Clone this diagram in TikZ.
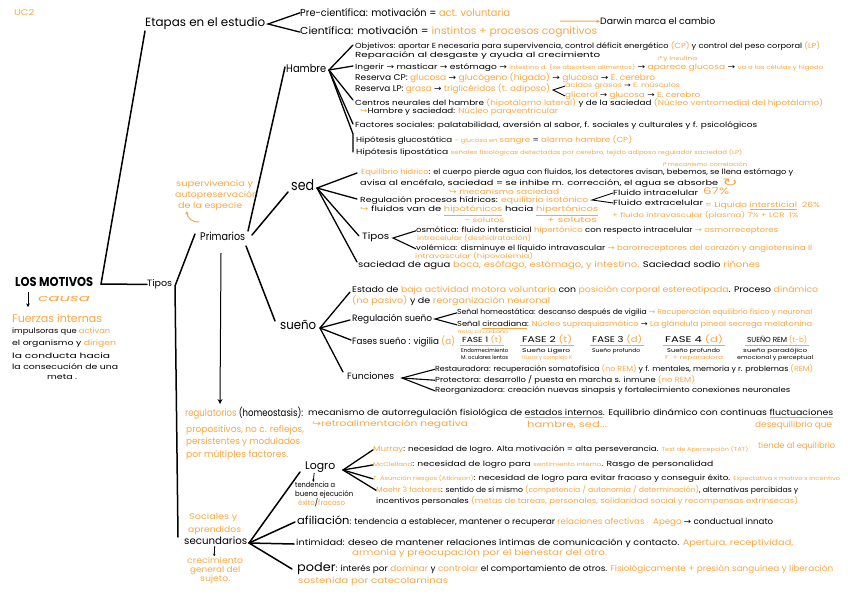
\documentclass[tikz,border=0pt]{standalone}
\usepackage{fontspec}
\setmainfont{Poppins}
\newfontfamily\symf{DejaVu Sans}
\usepackage{graphicx}
\usetikzlibrary{arrows.meta}
\definecolor{orn}{RGB}{247,168,66}
\newcommand{\orn}[1]{\textcolor{orn}{#1}}
\newcommand{\rar}{{\symf →}}
\newcommand{\sm}[1]{{\fontsize{5.6}{5.6}\selectfont #1}}
\newcommand{\oul}[1]{{\color{orn}\underline{\color{black}#1}}}
\newcommand{\tline}[6]{\pgfmathsetmacro\tls{#5*0.92}\node[anchor=mid west,inner sep=0pt] (#1) at (#2,#3) {\resizebox{#4pt}{\height}{\fontsize{\tls pt}{\tls pt}\selectfont #6}};}
\tikzset{conn/.style={line width=1.5pt,line cap=round},
  fork/.style={line width=1.3pt,line cap=round},
  ul/.style={orn,line width=1.1pt},
  sarr/.style={line width=1pt,-{Stealth[length=3.5pt,width=3.5pt]}}}
\begin{document}
\begin{tikzpicture}[x=1pt,y=-1pt]
\fill[white] (0,0) rectangle (848,599);
\useasboundingbox (0,0) rectangle (848,599);
% ---------- root
\tline{uc}{14}{13}{20}{9}{\orn{UC2}}
\tline{root}{15}{284}{78}{14}{\bfseries LOS MOTIVOS}
\tline{causa}{38}{299}{52}{10}{\orn{\itshape causa}}
\coordinate (cb) at (28,292); \coordinate (ce) at (28,307);
\draw[sarr] (cb) -- (ce);
\tline{fuer}{12}{320}{90}{12}{\orn{Fuerzas internas}}
\tline{imp}{12}{331}{98}{8}{impulsoras que \orn{activan}}
\tline{org}{12}{343}{104}{8}{el organismo y \orn{dirigen}}
\tline{cond}{12}{356}{98}{8}{la conducta hacia}
\tline{cons}{12}{367}{106}{8}{la consecución de una}
\tline{meta}{47}{377}{30}{8}{meta .}
% ---------- etapas
\tline{etapas}{145}{24}{120}{13}{Etapas en el estudio}
\tline{pre}{300}{14}{210}{11}{Pre-científica: motivación = \orn{act. voluntaria}}
\tline{cie}{300}{32}{297}{11}{Científica: motivación = \orn{instintos + procesos cognitivos}}
\tline{darwin}{600}{22}{115}{10}{Darwin marca el cambio}
\coordinate (da1) at (560,21);
\draw[orn,sarr] (da1) -- (darwin.west);
\coordinate (ef) at (268,24);
\draw[fork] (pre.west) -- (ef) -- (cie.west);
\tline{tipos}{147}{284}{25}{10}{Tipos}
\coordinate (rj) at (101,284); \coordinate (etl) at (145,31);
\draw[conn] (etl) -- (rj) -- (tipos.west);
% ---------- primarios / secundarios
\tline{prim}{200}{238}{45}{12}{Primarios}
\tline{sup1}{176}{184}{77}{9}{\orn{supervivencia y}}
\tline{sup2}{175}{195}{83}{9}{\orn{autopreservación}}
\tline{sup3}{178}{206}{64}{9}{\orn{de la especie}}
\coordinate (ca1) at (199,222); \coordinate (ca2) at (187,211);
\draw[orn,sarr] (ca1) to[bend left=50] (ca2);
\coordinate (tj) at (175,286); \coordinate (prl) at (195,234); \coordinate (sel) at (178,537);
\draw[conn] (prl) -- (tj) -- (sel);
\coordinate (pa1) at (221,253); \coordinate (pa2) at (220,404);
\draw[line width=1pt,-{Stealth[length=5pt,width=5pt]}] (pa1) -- (pa2);
% ---------- hambre
\tline{hambre}{286}{70}{40}{12}{Hambre}
\coordinate (ph) at (248,231); \coordinate (hl) at (285,67);
\draw[conn] (ph) -- (hl);
\coordinate (hj) at (329,70);
\coordinate (h1) at (353,45); \coordinate (h2) at (353,66); \coordinate (h3) at (353,100);
\coordinate (h4) at (353,124); \coordinate (h5) at (353,134); \coordinate (h6) at (353,152);
\draw[fork] (hj) -- (h1); \draw[fork] (hj) -- (h2); \draw[fork] (hj) -- (h3);
\draw[fork] (hj) -- (h4); \draw[fork] (hj) -- (h5) -- (h6);
\tline{hb1}{355}{46}{465}{8}{Objetivos: aportar E necesaria para supervivencia, control déficit energético \orn{(CP)} y control del peso corporal \orn{(LP)}}
\tline{hb2}{355}{55}{245}{8}{Reparación al desgaste y ayuda al crecimiento}
\tline{ins}{657}{58}{40}{6}{\orn{{\symf ↱}y insulina}}
\tline{hb3}{355}{67}{468}{8}{Ingerir \rar{} masticar \rar{} estómago \rar{} \orn{\sm{intestino d. (se absorben alimentos)}} \rar{} \orn{aparece glucosa} \rar{} \orn{\sm{va a las células y hígado}}}
\tline{hb4}{355}{78}{300}{9}{Reserva CP: \orn{glucosa} \rar{} \orn{glucógeno (hígado)} \rar{} \orn{glucosa} \rar{} \orn{E. cerebro}}
\tline{hb5}{355}{89}{195}{9}{Reserva LP: \orn{grasa} \rar{} \orn{triglicéridos (t. adiposo)}}
\coordinate (lpj) at (553,90);
\tline{ag}{565}{85}{115}{7}{\orn{ácidos grasos} \rar{} \orn{E. músculos}}
\tline{gl}{565}{95}{135}{8}{\orn{glicerol} \rar{} \orn{glucosa} \rar{} \orn{E. cerebro}}
\draw[line width=0.9pt] (ag.west) -- (lpj) -- (gl.west);
\tline{hb6}{355}{103}{468}{8}{Centros neurales del hambre \orn{(hipotálamo lateral)} y de la saciedad \orn{(Núcleo ventromedial del hipotálamo)}}
\tline{hb7}{360}{111}{198}{8}{\orn{{\symf ↪}}Hambre y saciedad: \orn{Núcleo paraventricular}}
\tline{hb8}{355}{125}{402}{8}{Factores sociales: palatabilidad, aversión al sabor, f. sociales y culturales y f. psicológicos}
\tline{hb9}{356}{140}{276}{8}{Hipótesis glucostática \orn{\sm{– glucosa en} sangre} = \orn{alarma hambre (CP)}}
\tline{hb10}{356}{152}{386}{8}{Hipótesis lipostática \orn{\sm{señales fisiológicas detectadas por cerebro, tejido adiposo regulador saciedad (LP)}}}
% ---------- sed
\tline{sed}{291}{188}{23}{16}{sed}
\coordinate (ps) at (252,235); \coordinate (sl) at (288,192);
\draw[conn] (ps) -- (sl);
\coordinate (sj) at (317,188);
\coordinate (s1) at (357,173); \coordinate (s2) at (357,199); \coordinate (s3) at (359,236); \coordinate (s4) at (357,262);
\draw[fork] (sj) -- (s1); \draw[fork] (sj) -- (s2); \draw[fork] (sj) -- (s3); \draw[fork] (sj) -- (s4);
\tline{mcorr}{662}{164}{85}{6}{\orn{{\symf ↱}mecanismo correlación}}
\tline{sd1}{361}{172}{432}{8}{\orn{Equilibrio hídrico}: el cuerpo pierde agua con fluidos, los detectores avisan, bebemos, se llena estómago y}
\tline{sd2}{360}{183}{358}{8}{avisa al encéfalo, saciedad = se inhibe m. corrección, el agua se absorbe}
\tline{circ}{722}{184}{16}{12}{\orn{\symf ↻}}
\tline{sd3}{449}{192}{110}{8}{\orn{{\symf ↪} mecanismo saciedad}}
\tline{sd4}{360}{200}{228}{8}{Regulación procesos hídricos: \orn{equilibrio isotónico}}
\coordinate (rpj) at (592,200);
\tline{fi}{613}{193}{85}{8}{Fluido intracelular}
\tline{p67}{703}{192}{26}{10}{\orn{67\%}}
\tline{fe}{613}{203}{90}{8}{Fluido extracelular}
\draw[line width=0.9pt] (fi.west) -- (rpj) -- (fe.west);
\tline{li}{705}{205}{115}{8}{\orn{= Líquido \underline{intersticial}\ \ 26\%}}
\tline{fiv}{612}{215}{186}{7}{\orn{+ fluido intravascular (plasma) 7\% + LCR \ 1\%}}
\tline{sd5}{360}{209}{238}{8}{\orn{{\symf ↪}} fluidos van de \orn{\underline{hipotónicos}} hacia \orn{\underline{hipertónicos}}}
\tline{msol}{464}{220}{40}{7}{\orn{– solutos}}
\tline{psol}{547}{220}{50}{8}{\orn{+ solutos}}
\tline{stipos}{362}{237}{27}{10}{Tipos}
\coordinate (stj) at (393,238);
\tline{osm}{416}{230}{362}{8}{osmótica: fluido intersticial \orn{hipertónico} con respecto intracelular \orn{\rar{} osmorreceptores}}
\tline{osm2}{417}{238}{114}{7}{\orn{intracelular (deshidratación)}}
\tline{vol}{416}{248}{396}{8}{volémica: disminuye el líquido intravascular \orn{\rar{} barorreceptores del corazón y angiotensina II}}
\tline{vol2}{415}{256}{118}{7}{\orn{intravascular (hipovolemia)}}
\draw[line width=1.1pt] (osm.west) -- (stj) -- (vol.west);
\tline{sac}{358}{265}{402}{9}{saciedad de agua \orn{boca, esófago, estómago, y intestino.} Saciedad sodio \orn{riñones}}
% ---------- sueño
\tline{sueno}{280}{327}{36}{14}{sueño}
\coordinate (pn) at (246,246); \coordinate (nl) at (275,321);
\draw[conn] (pn) -- (nl);
\coordinate (nj) at (320,328);
\coordinate (n1) at (350,292); \coordinate (n2) at (350,320); \coordinate (n3) at (351,340); \coordinate (n4) at (343,372);
\draw[fork] (nj) -- (n1); \draw[fork] (nj) -- (n2); \draw[fork] (nj) -- (n3); \draw[fork] (nj) -- (n4);
\tline{su1}{352}{290}{466}{9}{Estado de \orn{baja actividad motora voluntaria} con \orn{posición corporal estereotipada}. Proceso \orn{dinámico}}
\tline{su2}{352}{301}{198}{9}{\orn{(no pasivo)} y de \orn{reorganización neuronal}}
\tline{regs}{352}{319}{80}{10}{Regulación sueño}
\coordinate (rsj) at (435,319);
\tline{rs1}{457}{312}{355}{8}{Señal homeostática: descanso después de vigilia \orn{\rar{} Recuperación equilibrio físico y neuronal}}
\tline{rs2}{457}{324}{355}{8}{Señal \oul{circadiana}: \orn{Núcleo supraquiasmático} \rar{} \orn{La glándula pineal secrega melatonina}}
\draw[line width=1.1pt] (rs1.west) -- (rsj) -- (rs2.west);
\tline{rs3}{458}{331}{50}{5}{\orn{Reloj circadiano}}
\tline{fases}{352}{342}{103}{10}{Fases sueño : vigilia \orn{(a)}}
\tline{fa1}{462}{340}{40}{8}{FASE 1 \orn{(t)}}
\tline{fa2}{522}{340}{50}{9}{FASE 2 \orn{(t)}}
\tline{fa3}{592}{340}{50}{9}{FASE 3 \orn{(d)}}
\tline{fa4}{665}{340}{58}{9}{FASE 4 \orn{(d)}}
\tline{fa5}{747}{340}{60}{8}{SUEÑO REM \orn{(t-b)}}
\foreach \f in {fa1,fa2,fa3,fa4,fa5}{\draw[ul] ([xshift=-2pt,yshift=-1pt]\f.south west) -- ([xshift=2pt,yshift=-1pt]\f.south east);}
\tline{fb1}{461}{350}{47}{6}{Endormecimiento}
\tline{fc1}{461}{357}{47}{6}{M. oculares lentos}
\tline{fb2}{522}{350}{48}{6}{Sueño Ligero}
\tline{fc2}{522}{357}{50}{6}{\orn{Husos y complejo K}}
\tline{fb3}{592}{350}{48}{6}{Sueño profundo}
\tline{fb4}{667}{350}{53}{6}{Sueño profundo}
\tline{fc4}{665}{357}{58}{6}{\orn{F. + reparadora}}
\tline{fb5}{743}{350}{64}{6}{sueño paradójico}
\tline{fc5}{737}{357}{76}{6}{emocional y perceptual}
\tline{func}{347}{377}{47}{10}{Funciones}
\coordinate (fj) at (402,378);
\tline{f1}{435}{369}{378}{8}{Restauradora: recuperación somatofísica \orn{(no REM)} y f. mentales, memoria y r. problemas \orn{(REM)}}
\tline{f2}{435}{380}{260}{8}{Protectora: desarrollo / puesta en marcha s. inmune \orn{(no REM)}}
\tline{f3}{435}{390}{355}{8}{Reorganizadora: creación nuevas sinapsis y fortalecimiento conexiones neuronales}
\draw[line width=1.1pt] (f1.west) -- (fj) -- (f3.west); \draw[line width=1.1pt] (fj) -- (f2.west);
% ---------- regulatorios
\tline{reg}{185}{414}{118}{11}{\orn{regulatorios} (homeostasis):}
\tline{reg2}{308}{413}{525}{9}{mecanismo de autorregulación fisiológica de \oul{estados internos}. Equilibrio dinámico con continuas \oul{fluctuaciones}}
\tline{retro}{312}{424}{156}{9}{\orn{{\symf ↪}retroalimentación negativa}}
\tline{hs}{527}{425}{80}{9}{\orn{hambre, sed...}}
\tline{deseq}{755}{425}{77}{9}{\orn{desequilibrio que}}
\tline{prop}{186}{430}{118}{10}{\orn{propositivos, no c. reflejos,}}
\tline{pers}{186}{442}{114}{10}{\orn{persistentes y modulados}}
\tline{mult}{186}{455}{102}{10}{\orn{por múltiples factores.}}
\tline{tiende}{758}{446}{77}{9}{\orn{tiende al equilibrio}}
% ---------- logro
\tline{logro}{305}{467}{30}{12}{Logro}
\tline{tend}{295}{485}{40}{8}{tendencia a}
\tline{buena}{295}{494}{58}{8}{buena ejecución}
\tline{exi}{298}{503}{47}{8}{\orn{éxito}/\orn{fracaso}}
\draw[line width=0.8pt,-{Stealth[length=2.5pt,width=2.5pt]}] ([xshift=-6pt]logro.south) -- ([xshift=-2pt]tend.north);
\coordinate (lj) at (343,470);
\tline{mur}{373}{449}{375}{8}{\orn{Murray}: necesidad de logro. Alta motivación = alta perseverancia. \orn{\sm{Test de Apercepción (TAT)}}}
\tline{mcc}{373}{464}{340}{8}{\orn{\sm{McClelland}}: necesidad de logro para \orn{\sm{sentimiento interno}}. Rasgo de personalidad}
\tline{tar}{373}{478}{467}{8}{\orn{\sm{T. Asunción riesgos (Atkinson)}}: necesidad de logro para evitar fracaso y conseguir éxito. \orn{\sm{Expectativa x motivo x incentivo}}}
\tline{mae}{376}{490}{422}{8}{\orn{Maehr 3 factores}: sentido de sí mismo \orn{(competencia / autonomía / determinación)}, alternativas percibidas y}
\tline{mae2}{376}{501}{422}{8}{incentivos personales \orn{(metas de tareas, personales, solidaridad social y recompensas extrínsecas)}}
\draw[fork] (lj) -- (mur.west); \draw[fork] (lj) -- (mcc.west); \draw[fork] (lj) -- (tar.west); \draw[fork] (lj) -- (mae.west);
% ---------- secundarios
\tline{soc}{189}{517}{48}{9}{\orn{Sociales y}}
\tline{apr}{188}{530}{53}{9}{\orn{aprendidos}}
\tline{secu}{184}{542}{63}{11}{secundarios}
\tline{crec}{187}{561}{56}{9}{\orn{crecimiento}}
\tline{gen}{190}{570}{50}{9}{\orn{general del}}
\tline{suj}{200}{579}{30}{9}{\orn{sujeto.}}
\draw[line width=0.8pt,-{Stealth[length=2.5pt,width=2.5pt]}] ([xshift=-1pt,yshift=-1pt]secu.south) -- ([xshift=-1pt,yshift=1pt]crec.north);
\coordinate (scj) at (249,543);
\coordinate (c1) at (300,472); \coordinate (c2) at (295,522); \coordinate (c3) at (294,544); \coordinate (c4) at (292,569);
\draw[conn] (scj) -- (c1); \draw[conn] (scj) -- (c2); \draw[conn] (scj) -- (c3); \draw[conn] (scj) -- (c4);
\tline{afil}{297}{522}{476}{9}{{\fontsize{11}{11}\selectfont afiliación}: tendencia a establecer, mantener o recuperar \orn{relaciones afectivas}\quad \orn{Apego} \rar{} conductual innato}
\tline{inti}{296}{543}{497}{9}{intimidad: deseo de mantener relaciones íntimas de comunicación y contacto. \orn{Apertura, receptividad,}}
\tline{inti2}{352}{553}{255}{9}{\orn{armonía y preocupación por el bienestar del otro.}}
\tline{pod}{297}{569}{536}{9}{{\fontsize{12}{12}\selectfont poder}: interés por \orn{dominar} y \orn{controlar} el comportamiento de otros. \orn{Fisiológicamente + presión sanguínea y liberación}}
\tline{pod2}{298}{581}{150}{9}{\orn{sostenida por catecolaminas}}
\end{tikzpicture}
\end{document}
